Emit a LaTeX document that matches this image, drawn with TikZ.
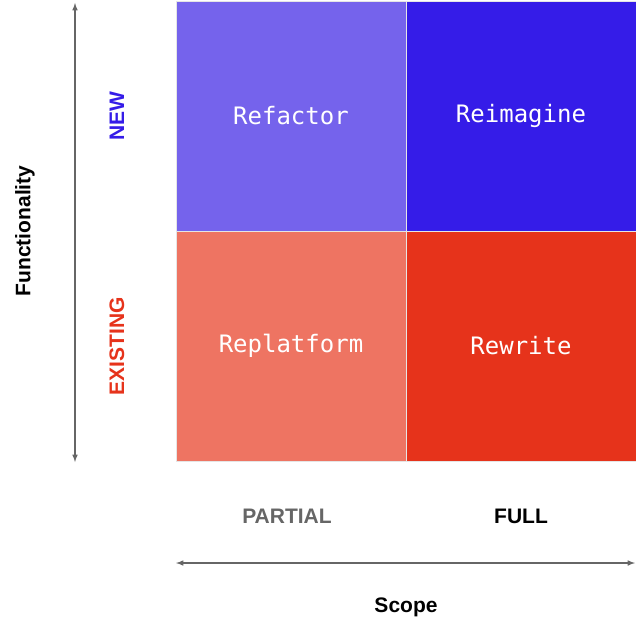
\documentclass[tikz,border=0pt]{standalone}
\usepackage{fontspec}
\setmainfont{Liberation Sans}
\newfontfamily\quadfont{DejaVu Sans Mono}
\usetikzlibrary{positioning}
\definecolor{newviolet}{HTML}{7563EC}
\definecolor{newblue}{HTML}{351CE8}
\definecolor{oldsalmon}{HTML}{EE7462}
\definecolor{oldred}{HTML}{E6331B}
\definecolor{axisgrey}{HTML}{666666}
\tikzset{
  quad/.style={minimum width=230pt, minimum height=230pt, inner sep=0pt,
    draw=white!80!gray, line width=0.8pt, text=white,
    font=\quadfont\fontsize{24}{28}\selectfont},
  axislbl/.style={font=\bfseries\fontsize{21}{24}\selectfont},
  axisline/.style={axisgrey, line width=1.5pt, <->, >=latex}
}
\begin{document}
\begin{tikzpicture}[x=1pt,y=-1pt]
\useasboundingbox (0,0) rectangle (636,626);
% quadrants
\node[quad, fill=newviolet]  (refactor)   at (291,116) {Refactor};
\node[quad, fill=newblue]    (reimagine)  at (521,116) {Reimagine};
\node[quad, fill=oldsalmon]  (replatform) at (291,346) {Replatform};
\node[quad, fill=oldred]     (rewrite)    at (521,346) {Rewrite};
% functionality axis
\coordinate (ftop) at (75,3);
\coordinate (fbot) at (75,462);
\draw[axisline] (ftop) -- (fbot);
\node[axislbl, rotate=90, text=newblue] (new) at (117,116) {NEW};
\node[axislbl, rotate=90, text=oldred] (existing) at (117,346) {EXISTING};
\node[axislbl, rotate=90] (functionality) at (25,231) {Functionality};
% scope axis
\node[axislbl, text=axisgrey] (partial) at (287,516) {PARTIAL};
\node[axislbl] (full) at (521,516) {FULL};
\coordinate (sleft) at (176,563);
\coordinate (sright) at (635,563);
\draw[axisline] (sleft) -- (sright);
\node[axislbl] (scope) at (406,607) {Scope};
\end{tikzpicture}
\end{document}
